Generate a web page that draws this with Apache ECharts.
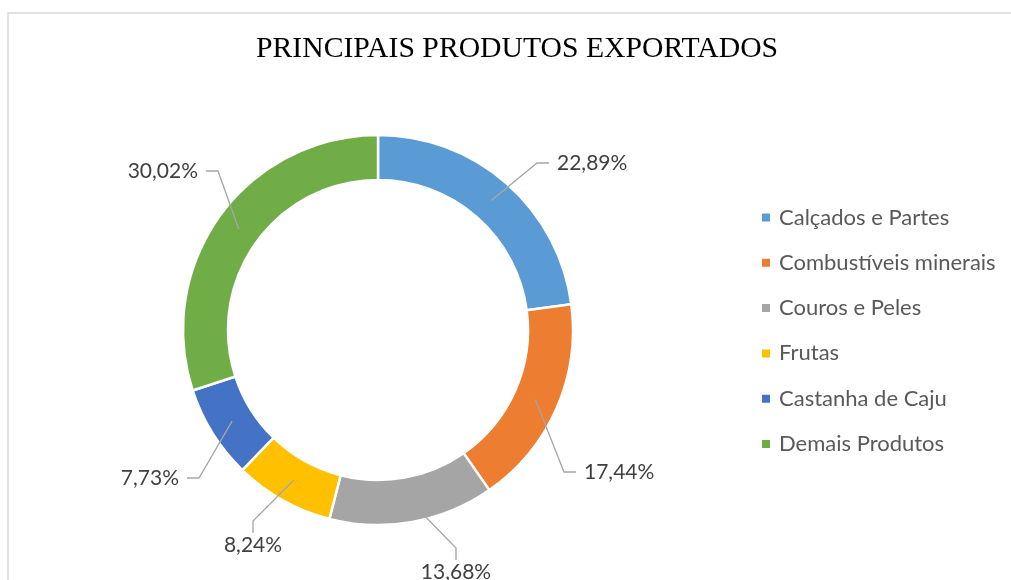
<!DOCTYPE html>
<html>
<head>
<meta charset="utf-8">
<script src="https://cdn.jsdelivr.net/npm/echarts@6/dist/echarts.min.js"></script>
<style>
  html, body { margin: 0; padding: 0; background: #fff; }
  #chart { width: 1011px; height: 580px; }
</style>
</head>
<body>
<div id="chart"></div>
<script>
// produtos e participação (%)
var produtos = ['Calçados e Partes', 'Combustíveis minerais', 'Couros e Peles', 'Frutas', 'Castanha de Caju', 'Demais Produtos'];
var participacao = [22.89, 17.44, 13.68, 8.24, 7.73, 30.02];
var cores = ['#5B9BD5', '#ED7D31', '#A5A5A5', '#FFC000', '#4472C4', '#70AD47'];

// onde fica cada rótulo (x, y, alinhamento) - igual ao gráfico do Excel
var posRotulo = [
    [549, 163, 'left'],
    [576, 472, 'left'],
    [456, 572, 'center'],
    [253, 545, 'center'],
    [187, 478, 'right'],
    [206, 171, 'right']
];

var chart = echarts.init(document.getElementById('chart'));

var dados = produtos.map(function (nome, i) {
    return { name: nome, value: participacao[i] };
});

var option = {
    animation: false,
    color: cores,
    title: {
        text: 'PRINCIPAIS PRODUTOS EXPORTADOS',
        left: 256,
        top: 34,
        padding: 0,
        textStyle: {
            fontFamily: 'Liberation Serif',
            fontWeight: 'normal',
            fontSize: 29.7,
            color: '#000'
        }
    },
    graphic: [{
        type: 'rect',
        silent: true,
        z: -1,
        shape: { x: 8, y: 13, width: 1200, height: 800 },
        style: { fill: 'none', stroke: '#d9d9d9', lineWidth: 1.5 }
    }],
    legend: {
        orient: 'vertical',
        left: 760,
        top: 206.5,
        padding: 0,
        itemWidth: 10,
        itemHeight: 10,
        itemGap: 23.3,
        icon: 'rect',
        data: produtos,
        textStyle: {
            fontFamily: 'Lato',
            fontSize: 22,
            lineHeight: 20,
            color: '#595959',
            padding: [0, 0, 0, 3]
        }
    },
    series: [
        {
            name: 'anel',
            type: 'pie',
            center: [378, 330],
            radius: [150, 195],
            startAngle: 90,
            clockwise: true,
            silent: true,
            label: { show: false },
            labelLine: { show: false },
            itemStyle: { borderColor: '#fff', borderWidth: 2.5 },
            data: dados
        },
        {
            // série invisível só para puxar as linhas do meio do anel
            name: 'rotulos',
            type: 'pie',
            center: [378, 330],
            radius: [0, 172],
            startAngle: 90,
            clockwise: true,
            silent: true,
            z: 3,
            avoidLabelOverlap: false,
            itemStyle: { color: 'rgba(0,0,0,0)', borderWidth: 0 },
            label: {
                show: true,
                fontFamily: 'Lato',
                fontSize: 21,
                lineHeight: 24,
                color: '#404040',
                padding: [0, 8, 0, 8],
                formatter: function (p) {
                    return p.value.toFixed(2).replace('.', ',') + '%';
                }
            },
            labelLine: {
                show: true,
                length: 20,
                length2: 12,
                lineStyle: { color: '#a6a6a6', width: 1.3 }
            },
            labelLayout: function (p) {
                var pos = posRotulo[p.dataIndex];
                return {
                    x: pos[0],
                    y: pos[1],
                    align: pos[2],
                    verticalAlign: 'middle'
                };
            },
            data: dados
        }
    ]
};

chart.setOption(option);
</script>
</body>
</html>
